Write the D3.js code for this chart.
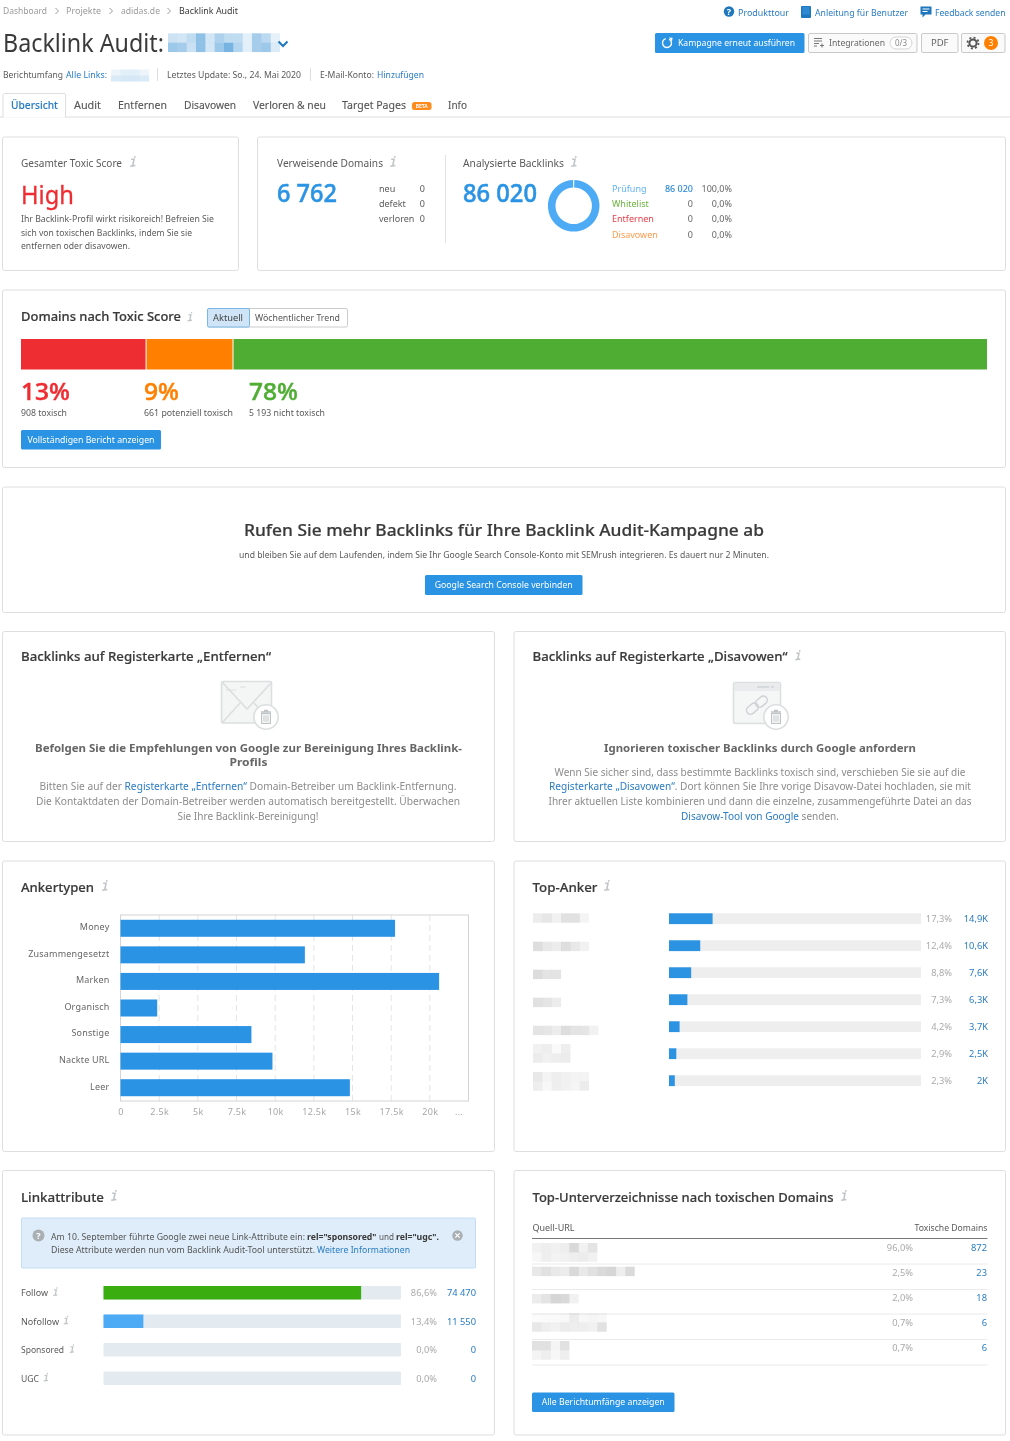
<!DOCTYPE html>
<html lang="de"><head><meta charset="utf-8"><title>Backlink Audit</title>
<script src="https://cdn.jsdelivr.net/npm/d3@7/dist/d3.min.js"></script>
<style>html,body{margin:0;padding:0;background:#fff;overflow:hidden}svg{display:block;filter:blur(.25px)}text{font-family:"Noto Sans",sans-serif}</style>
</head><body><script>
// ---- chart data ----
const toxicPercents = [13, 9, 78];
const toxicLabels = ["908 toxisch", "661 potenziell toxisch", "5 193 nicht toxisch"];
const anchorTypes = ["Money", "Zusammengesetzt", "Marken", "Organisch", "Sonstige", "Nackte URL", "Leer"];
const anchorValues = [17750, 11920, 20600, 2375, 8465, 9825, 14830];
const anchorTicks = [0, 2500, 5000, 7500, 10000, 12500, 15000, 17500, 20000, 22500];
const anchorTickLabels = ["0", "2.5k", "5k", "7.5k", "10k", "12.5k", "15k", "17.5k", "20k", "..."];
const topAnchorPct = [17.3, 12.4, 8.8, 7.3, 4.2, 2.9, 2.3];
const topAnchorCount = ["14,9K", "10,6K", "7,6K", "6,3K", "3,7K", "2,5K", "2K"];
const topAnchorMask = [
  [[.14,.18,.1,.22,.22,.08]], [[.24,.17,.14,.24,.17,.1]], [[.26,.2,.2]], [[.22,.19,.14]],
  [[.2,.18,.14,.24,.2,.19,.1]], [[.1,.12,.04,.12],[.14,.1,.12,.14]], [[.17,.08,.12,.1,.08,.08],[.12,.05,.12,.1,.07,.14]]];
const attrNames = ["Follow", "Nofollow", "Sponsored", "UGC"];
const attrPct = [86.6, 13.4, 0, 0];
const attrCount = ["74 470", "11 550", "0", "0"];
const subdirPct = ["96,0%", "2,5%", "2,0%", "0,7%", "0,7%"];
const subdirCount = ["872", "23", "18", "6", "6"];
const subdirMask = [
  [[.1,.12,.1,.12,.28,.1,.2],[.06,.12,.09,.1,.12,.14,.1]],
  [[.17,.22,.16,.14,.28,.16,.22,.27,.3,.12,.27]],
  [[.14,.2,.3,.28,.1]],
  [[.03,.04,.04,.05,.14,.06,.07,.06],[.17,.12,.1,.14,.12,.12,.1,.22]],
  [[.22,.22,.07,.22],[.08,.12,.06,.12]]];
const backlinkStates = ["Prüfung", "Whitelist", "Entfernen", "Disavowen"];
const backlinkCounts = [86020, 0, 0, 0];
const backlinkCountText = ["86 020", "0", "0", "0"];
const backlinkShare = ["100,0%", "0,0%", "0,0%", "0,0%"];
const domainStates = ["neu", "defekt", "verloren"];
const domainCounts = [0, 0, 0];
const tabs = ["Übersicht", "Audit", "Entfernen", "Disavowen", "Verloren & neu", "Target Pages", "Info"];
const crumbs = ["Dashboard", "Projekte", "adidas.de", "Backlink Audit"];

// ---- helpers ----
const BLUE = "#2a93e4", LINK = "#2a7cc4", DARK = "#3a3a3a", MID = "#5a5a5a", GREY = "#8c8c8c";
const svg = d3.select("body").append("svg").attr("width", 1010).attr("height", 1441).attr("viewBox", "0 0 1010 1441");
function T(x, y, s, o = {}) {
  const t = svg.append("text").attr("x", x).attr("y", y).text(s)
    .attr("font-size", o.size || 9.5).attr("fill", o.color || MID).attr("font-weight", o.weight || 400)
    .attr("text-anchor", o.anchor || "start");
  if (o.w) t.attr("textLength", o.w).attr("lengthAdjust", "spacingAndGlyphs");
  if (o.stroke) t.attr("stroke", o.color || MID).attr("stroke-width", o.stroke);
  return t;
}
function rich(x, y, parts, o = {}) {
  const t = T(x, y, "", o);
  parts.forEach(p => { const sp = t.append("tspan").text(p[0]); if (p[1]) sp.attr("fill", p[1]); if (p[2]) sp.attr("font-weight", p[2]); });
  if (o.w) t.attr("textLength", o.w).attr("lengthAdjust", "spacingAndGlyphs");
  return t;
}
function card(x0, y0, x1, y1) {
  svg.append("rect").attr("x", x0).attr("y", y0).attr("width", x1 - x0).attr("height", y1 - y0).attr("rx", 2)
    .attr("fill", "#fff").attr("stroke", "#dedede");
}
function btn(x0, y0, x1, y1, s, o = {}) {
  svg.append("rect").attr("x", x0).attr("y", y0).attr("width", x1 - x0).attr("height", y1 - y0).attr("rx", 1.5).attr("fill", o.fill || "#2a93e4").attr("stroke", o.stroke || "none");
  if (s) T(o.tx || (x0 + x1) / 2, (y0 + y1) / 2 + 3, s, { color: o.color || "#fff", anchor: o.tx ? "start" : "middle", w: o.w, size: o.size });
}
function info(x, y, k = 1) {
  const g = svg.append("g").attr("transform", `translate(${x},${y}) scale(${k})`);
  g.append("path").attr("d", "M-1.8,-7.2H1L-.3,-.6M-2.8,-.2L2.4,-1")
    .attr("fill", "none").attr("stroke", "#c0c4c6").attr("stroke-width", 1.6);
  g.append("circle").attr("cx", 1.8).attr("cy", -9.6).attr("r", .95).attr("fill", "#c0c4c6");
}
function mosaic(x, y, rows, color = "#777", cw = 9.33, ch = 9.33) {
  rows.forEach((r, j) => r.forEach((v, i) => svg.append("rect").attr("x", x + i * cw).attr("y", y + j * ch)
    .attr("width", cw + .1).attr("height", ch + .1).attr("fill", color).attr("opacity", v)));
}
function title(x, y, s, w, size = 12.5) { T(x, y, s, { size, color: DARK, weight: 500, w, stroke: .18 }); }
function chev(x, y, c = "#aaa") {
  svg.append("path").attr("d", `M${x - 1.5},${y - 3}L${x + 1.5},${y}L${x - 1.5},${y + 3}`).attr("fill", "none").attr("stroke", c);
}

// ---- page header ----
[[3, 44], [66, 35], [121, 39], [179, 59]].forEach((p, i) => T(p[0], 14, crumbs[i], { color: i === 3 ? DARK : "#9a9a9a", w: p[1], size: 9.5 }));
[57, 111, 169].forEach(x => chev(x, 11, "#999"));
T(3, 52, "Backlink Audit:", { size: 26, color: DARK, w: 161 });
mosaic(168, 33.3, [[.28,.25,.35,.62,.25,.45,.35,.35,.15,.5,.38,.14],[.55,.5,.3,.62,.25,.55,.75,.42,.15,.5,.55,.2]], "#4b9bd8");
svg.append("path").attr("d", "M278.5,41.5L283,46L287.5,41.5").attr("fill", "none").attr("stroke", "#1f77bd").attr("stroke-width", 2);
T(3, 78, "Berichtumfang", { w: 60 });
T(66, 78, "Alle Links:", { color: LINK, w: 41 });
mosaic(111, 69.5, [[.12,.2,.2,.12],[.25,.28,.28,.25]], "#6aaede", 9.5, 6);
[157, 310].forEach(x => svg.append("line").attr("x1", x + .5).attr("x2", x + .5).attr("y1", 68).attr("y2", 81).attr("stroke", "#ddd"));
T(167, 78, "Letztes Update: So., 24. Mai 2020", { w: 134 });
T(320, 78, "E-Mail-Konto:", { w: 54 });
T(377, 78, "Hinzufügen", { color: LINK, w: 47 });

// top links
[[738, "Produkttour", 51], [815, "Anleitung für Benutzer", 93], [935, "Feedback senden", 70.5]].forEach(d => T(d[0], 16, d[1], { color: LINK, w: d[2], size: 9 }));
svg.append("circle").attr("cx", 729).attr("cy", 11.5).attr("r", 5.2).attr("fill", "#1f77bd");
T(729, 14.8, "?", { color: "#fff", anchor: "middle", size: 9, weight: 700 });
svg.append("rect").attr("x", 801).attr("y", 6).attr("width", 10).attr("height", 12).attr("rx", 1).attr("fill", "#1f77bd");
svg.append("rect").attr("x", 802.5).attr("y", 7).attr("width", 7).attr("height", 7.5).attr("fill", "#2f8ad4");
svg.append("path").attr("d", "M920.5,6.5h11v8h-6l-3,3v-3h-2z").attr("fill", "#1f77bd");
svg.append("path").attr("d", "M922.5,9h7M922.5,11.5h5").attr("stroke", "#fff");

// action buttons
btn(655, 33, 804.5, 53, "Kampagne erneut ausführen", { tx: 678, w: 117 });
svg.append("path").attr("d", d3.arc()({ innerRadius: 3.8, outerRadius: 5.2, startAngle: .5, endAngle: 6 })).attr("transform", "translate(667,43)").attr("fill", "#fff");
svg.append("path").attr("d", "M669,37.5l3.6,.2l-.6,3.5z").attr("fill", "#fff");
const bOpt = { fill: "#fafafa", stroke: "#c9c9c9", color: "#666" };
btn(808.5, 33.5, 917, 52.5, "Integrationen", { ...bOpt, tx: 829, w: 56 });
svg.append("path").attr("d", "M814,38.5h8M814,41h8M814,43.5h5M814,46h3").attr("stroke", "#777").attr("stroke-width", 1);
svg.append("path").attr("d", "M820,45.5h4M822,43.5v4").attr("stroke", "#777");
svg.append("rect").attr("x", 890).attr("y", 37).attr("width", 22).attr("height", 12).attr("rx", 6).attr("fill", "#fff").attr("stroke", "#d5d5d5");
T(901, 46, "0/3", { color: "#888", anchor: "middle", size: 8 });
btn(921.5, 33.5, 958, 52.5, "PDF", { ...bOpt });
btn(961.5, 33.5, 1005, 52.5, "", { ...bOpt });
svg.append("circle").attr("cx", 973).attr("cy", 43).attr("r", 3.6).attr("fill", "none").attr("stroke", "#555").attr("stroke-width", 2);
svg.append("circle").attr("cx", 973).attr("cy", 43).attr("r", 5.5).attr("fill", "none").attr("stroke", "#555").attr("stroke-width", 1.8).attr("stroke-dasharray", "2 2.3");
svg.append("circle").attr("cx", 991).attr("cy", 43).attr("r", 7).attr("fill", "#ff8000");
T(991, 46, "3", { color: "#fff", anchor: "middle", size: 8.5 });

// tabs
svg.append("rect").attr("x", 0).attr("y", 116).attr("width", 1010).attr("height", 2).attr("fill", "#eeeeee");
svg.append("path").attr("d", "M3,117.5V95a1.5,1.5 0 0 1 1.5,-1.5H64a1.5,1.5 0 0 1 1.5,1.5V117.5").attr("fill", "#fff").attr("stroke", "#dedede");
[[11, 47], [74, 27], [118, 49], [184, 52], [253, 73], [342, 64], [448, 19]].forEach((p, i) =>
  T(p[0], 109, tabs[i], { size: 10, color: i === 0 ? LINK : "#555", w: p[1], weight: i === 0 ? 500 : 400, stroke: .1 }));
svg.append("rect").attr("x", 412).attr("y", 102).attr("width", 19.5).attr("height", 8).attr("rx", 2.5).attr("fill", "#ff8a1e");
T(421.7, 108.2, "BETA", { color: "#fff", size: 5, anchor: "middle", weight: 700 });

// ---- score card ----
card(2.5, 137, 238.5, 270.5);
T(21, 167, "Gesamter Toxic Score", { size: 10.5, w: 101 });
info(133, 166.5);
T(21, 204, "High", { size: 26, color: "#ee2d32", w: 53, stroke: .3 });
["Ihr Backlink-Profil wirkt risikoreich! Befreien Sie", "sich von toxischen Backlinks, indem Sie sie", "entfernen oder disavowen."].forEach((s, i) =>
  T(21, [222, 236, 249][i], s, { size: 9, w: [193, 171, 109][i] }));

card(257.5, 137, 1005.5, 270.5);
T(277, 167, "Verweisende Domains", { size: 10.5, w: 106 });
info(393, 166.5);
T(277, 202, "6 762", { size: 25, color: BLUE, weight: 500, stroke: .5, w: 60 });
domainStates.forEach((s, i) => {
  T(379, [192, 207, 222][i], s, { size: 9 });
  T(425, [192, 207, 222][i], domainCounts[i], { size: 9, anchor: "end" });
});
svg.append("line").attr("x1", 445.5).attr("x2", 445.5).attr("y1", 155).attr("y2", 243).attr("stroke", "#e2e2e2");
T(463, 167, "Analysierte Backlinks", { size: 10.5, w: 101 });
info(574, 166.5);
T(463, 202, "86 020", { size: 25, color: BLUE, weight: 500, stroke: .5, w: 74 });
const pie = d3.pie().sort(null).startAngle(.025).endAngle(2 * Math.PI - .025)(backlinkCounts);
svg.append("g").attr("transform", "translate(573.7,205.8)").selectAll("path").data(pie).join("path")
  .attr("d", d3.arc().innerRadius(18.2).outerRadius(25.8)).attr("fill", "#4dabf5");
const stateColors = ["#62b3f0", "#6cb33f", "#e8414b", "#ff9a4d"];
backlinkStates.forEach((s, i) => {
  const y = [192, 207, 222, 238][i];
  T(612, y, s, { size: 9, color: stateColors[i] });
  T(693, y, backlinkCountText[i], { size: 9, anchor: "end", color: i === 0 ? "#2a88d8" : "#666", weight: i === 0 ? 500 : 400 });
  T(732, y, backlinkShare[i], { size: 9, anchor: "end", color: "#666" });
});

// ---- domains by toxic score ----
card(2.5, 290, 1005.5, 467.5);
title(21, 321, "Domains nach Toxic Score", 160);
info(190, 321, .85);
svg.append("rect").attr("x", 207.5).attr("y", 308.5).attr("width", 140).attr("height", 18.5).attr("rx", 1.5).attr("fill", "#fff").attr("stroke", "#ccc");
svg.append("rect").attr("x", 207.5).attr("y", 308.5).attr("width", 42).attr("height", 18.5).attr("rx", 1.5).attr("fill", "#cfe5f7").attr("stroke", "#78b7e8");
T(213, 321, "Aktuell", { w: 30, color: "#444" });
T(255, 321, "Wöchentlicher Trend", { w: 85, color: "#555" });
const stackX = d3.scaleLinear().domain([0, 100]).range([21, 987]);
const toxicColors = ["#ee2d32", "#ff8000", "#4fad33"];
let acc = 0;
svg.append("g").selectAll("rect").data(toxicPercents).join("rect")
  .attr("x", d => { const x = stackX(acc); acc += d; return x; })
  .attr("y", 339).attr("height", 30.5).attr("fill", (d, i) => toxicColors[i])
  .attr("width", (d, i) => stackX(d) - stackX(0) - (i < 2 ? 1 : 0));
[21, 144, 249].forEach((x, i) => {
  T(x, 400, toxicPercents[i] + "%", { size: 24, color: toxicColors[i], weight: 500, stroke: .5, w: [49, 35, 49][i] });
  T(x, 416, toxicLabels[i], { size: 9.5, w: [46, 89, 76][i] });
});
btn(21, 430, 161, 449.5, "Vollständigen Bericht anzeigen", { w: 127 });

// ---- promo ----
card(2.5, 487, 1005.5, 612.5);
T(504, 536, "Rufen Sie mehr Backlinks für Ihre Backlink Audit-Kampagne ab", { size: 17, color: DARK, weight: 500, anchor: "middle", w: 520, stroke: .2 });
T(504, 558, "und bleiben Sie auf dem Laufenden, indem Sie Ihr Google Search Console-Konto mit SEMrush integrieren. Es dauert nur 2 Minuten.", { size: 9.5, anchor: "middle", w: 530 });
btn(425, 575, 582.5, 595, "Google Search Console verbinden", { w: 138 });

// ---- remove / disavow cards ----
card(2.5, 631.5, 494.5, 841.5);
title(21, 660.5, "Backlinks auf Registerkarte „Entfernen“", 250);
svg.append("rect").attr("x", 221.5).attr("y", 681.5).attr("width", 50).attr("height", 41.5).attr("rx", 1.5).attr("fill", "#f4f5f5").attr("stroke", "#dcdfe0").attr("stroke-width", 1.6);
svg.append("path").attr("d", "M222,682L247,709L272,682M222,723L240,703M272,723L254,703").attr("fill", "none").attr("stroke", "#dcdfe0").attr("stroke-width", 1.6);
svg.append("path").attr("d", "M226,690h10M240,687h6").attr("stroke", "#dcdfe0");
function trash(cx, cy) {
  svg.append("circle").attr("cx", cx).attr("cy", cy).attr("r", 12.2).attr("fill", "#fff").attr("stroke", "#dcdfe0").attr("stroke-width", 1.6);
  svg.append("path").attr("d", `M${cx - 5},${cy - 5}h10M${cx - 2},${cy - 6.5}h4`).attr("stroke", "#bfc4c6").attr("stroke-width", 1.3);
  svg.append("rect").attr("x", cx - 4.5).attr("y", cy - 3.5).attr("width", 9).attr("height", 10).attr("fill", "#f1f2f2").attr("stroke", "#bfc4c6");
  svg.append("path").attr("d", `M${cx - 2},${cy - 1.5}v6M${cx},${cy - 1.5}v6M${cx + 2},${cy - 1.5}v6`).attr("stroke", "#bfc4c6").attr("stroke-width", .7);
}
trash(266, 717);
T(248.5, 752, "Befolgen Sie die Empfehlungen von Google zur Bereinigung Ihres Backlink-", { size: 11, color: "#666", weight: 700, anchor: "middle", w: 427 });
T(248.5, 766, "Profils", { size: 11, color: "#666", weight: 700, anchor: "middle", w: 38 });
rich(248, 790, [["Bitten Sie auf der "], ["Registerkarte „Entfernen“", LINK], [" Domain-Betreiber um Backlink-Entfernung."]], { size: 10, color: GREY, anchor: "middle", w: 417 });
T(248, 805, "Die Kontaktdaten der Domain-Betreiber werden automatisch bereitgestellt. Überwachen", { size: 10, color: GREY, anchor: "middle", w: 424 });
T(248, 819.5, "Sie Ihre Backlink-Bereinigung!", { size: 10, color: GREY, anchor: "middle", w: 141 });

card(514, 631.5, 1005.5, 841.5);
title(532.5, 660.5, "Backlinks auf Registerkarte „Disavowen“", 255);
info(798, 660, .95);
svg.append("rect").attr("x", 733.5).attr("y", 682.5).attr("width", 47).attr("height", 41).attr("rx", 2).attr("fill", "#f5f6f6").attr("stroke", "#dcdfe0").attr("stroke-width", 1.6);
svg.append("rect").attr("x", 734).attr("y", 683).attr("width", 46).attr("height", 8).attr("fill", "#e9ebec");
svg.append("path").attr("d", "M757,687h12M771,687h3").attr("stroke", "#cfd3d5").attr("stroke-width", 1.5);
svg.append("rect").attr("x", 746).attr("y", 705).attr("width", 13).attr("height", 8).attr("rx", 4).attr("transform", "rotate(-40 752 709)").attr("fill", "none").attr("stroke", "#cfd3d5").attr("stroke-width", 1.5);
svg.append("rect").attr("x", 755).attr("y", 698).attr("width", 13).attr("height", 8).attr("rx", 4).attr("transform", "rotate(-40 761 702)").attr("fill", "none").attr("stroke", "#cfd3d5").attr("stroke-width", 1.5);
trash(776, 717);
T(760, 752, "Ignorieren toxischer Backlinks durch Google anfordern", { size: 11, color: "#666", weight: 700, anchor: "middle", w: 312 });
T(760, 776, "Wenn Sie sicher sind, dass bestimmte Backlinks toxisch sind, verschieben Sie sie auf die", { size: 10, color: GREY, anchor: "middle", w: 411 });
rich(760, 790, [["Registerkarte „Disavowen“", LINK], [". Dort können Sie Ihre vorige Disavow-Datei hochladen, sie mit"]], { size: 10, color: GREY, anchor: "middle", w: 422 });
T(760, 805, "Ihrer aktuellen Liste kombinieren und dann die einzelne, zusammengeführte Datei an das", { size: 10, color: GREY, anchor: "middle", w: 423 });
rich(760, 819.5, [["Disavow-Tool von Google", LINK], [" senden."]], { size: 10, color: GREY, anchor: "middle", w: 158 });

// ---- anchor types chart ----
card(2.5, 861, 494.5, 1151.5);
title(21, 892, "Ankertypen", 73, 13);
info(105, 890.5);
const ax = d3.scaleLinear().domain([0, 22500]).range([120.5, 468.5]);
const ay = d3.scaleBand().domain(anchorTypes).range([915, 1101]).paddingInner(.36).paddingOuter(.18);
svg.append("g").selectAll("line").data(anchorTicks.slice(1, -1)).join("line")
  .attr("x1", d => ax(d)).attr("x2", d => ax(d)).attr("y1", 915).attr("y2", 1101)
  .attr("stroke", "#e4e4e4").attr("stroke-dasharray", "6 4");
svg.append("rect").attr("x", 120.5).attr("y", 915).attr("width", 348).attr("height", 186).attr("fill", "none").attr("stroke", "#d4d4d4").attr("stroke-width", 1);
svg.append("g").selectAll("rect").data(anchorValues).join("rect")
  .attr("x", ax(0)).attr("y", (d, i) => ay(anchorTypes[i]))
  .attr("width", d => ax(d) - ax(0)).attr("height", ay.bandwidth()).attr("fill", "#2a93e4");
const xa = svg.append("g").attr("transform", "translate(0,1101)")
  .call(d3.axisBottom(ax).tickValues(anchorTicks).tickFormat((d, i) => anchorTickLabels[i]).tickSize(0).tickPadding(8));
xa.select(".domain").remove();
xa.selectAll("text").attr("font-size", 9).attr("fill", "#a8a8a8").attr("dx", (d, i) => i === 9 ? -10 : 0).style("letter-spacing", ".3px");
const ya = svg.append("g").attr("transform", "translate(120.5,0)").call(d3.axisLeft(ay).tickSize(0).tickPadding(11));
ya.select(".domain").remove();
ya.selectAll("text").attr("font-size", 9).attr("fill", "#666").attr("dy", ".2em").style("letter-spacing", ".2px");

// ---- top anchors ----
card(514, 861, 1005.5, 1151.5);
title(532.5, 892, "Top-Anker", 65, 13);
info(607, 890.5);
const tx = d3.scaleLinear().domain([0, 100]).range([669, 921]);
const topY = d3.scaleBand().domain(d3.range(topAnchorPct.length)).range([905.2, 1094.2]).paddingInner(.6).paddingOuter(.3);
svg.append("g").selectAll("rect").data(topAnchorPct).join("rect").attr("x", tx(0)).attr("y", (d, i) => topY(i)).attr("width", tx(100) - tx(0)).attr("height", topY.bandwidth()).attr("fill", "#eeeeee");
svg.append("g").selectAll("rect").data(topAnchorPct).join("rect").attr("x", tx(0)).attr("y", (d, i) => topY(i)).attr("width", d => tx(d) - tx(0)).attr("height", topY.bandwidth()).attr("fill", "#2c93e3");
topAnchorPct.forEach((p, i) => {
  const y = topY(i) + topY.bandwidth() / 2 + 3.2;
  T(952, y, String(p).replace(".", ",") + "%", { size: 9.3, color: "#aaa", anchor: "end" });
  T(988, y, topAnchorCount[i], { size: 9.3, color: LINK, anchor: "end" });
});
[913.3, 941.7, 969.7, 997.7, 1025.7, 1044, 1072].forEach((y, i) => mosaic(533, y, topAnchorMask[i], "#777"));

// ---- link attributes ----
card(2.5, 1170.5, 494.5, 1435);
title(21, 1202, "Linkattribute", 83, 13);
info(114, 1200.5);
svg.append("rect").attr("x", 21.5).attr("y", 1218).attr("width", 454).attr("height", 50).attr("rx", 1).attr("fill", "#deedf9").attr("stroke", "#c4dff4");
svg.append("circle").attr("cx", 38.5).attr("cy", 1235.5).attr("r", 6).attr("fill", "#a9afb3");
T(38.5, 1238.8, "?", { size: 9, color: "#fff", anchor: "middle", weight: 700 });
T(51, 1240, "Am 10. September führte Google zwei neue Link-Attribute ein:", { size: 9, w: 254, color: "#555" });
T(307, 1240, 'rel="sponsored"', { size: 9, w: 69.5, color: DARK, weight: 700 });
T(379, 1240, "und", { size: 9, w: 15, color: "#555" });
T(396, 1240, 'rel="ugc".', { size: 9, w: 43, color: DARK, weight: 700 });
T(51, 1253, "Diese Attribute werden nun vom Backlink Audit-Tool unterstützt.", { size: 9, w: 264, color: "#555" });
T(317, 1253, "Weitere Informationen", { size: 9, w: 93, color: LINK });
svg.append("circle").attr("cx", 457.5).attr("cy", 1235.5).attr("r", 5.2).attr("fill", "#a9afb3");
svg.append("path").attr("d", "M455.3,1233.3l4.4,4.4M459.7,1233.3l-4.4,4.4").attr("stroke", "#fff").attr("stroke-width", 1.2);
const lx = d3.scaleLinear().domain([0, 100]).range([103.5, 401]);
const ly = d3.scaleBand().domain(attrNames).range([1278.5, 1392.5]).paddingInner(.526).paddingOuter(.263);
const attrColors = ["#3aae10", "#4dabf5", "#4dabf5", "#4dabf5"];
svg.append("g").selectAll("rect").data(attrNames).join("rect").attr("x", lx(0)).attr("y", d => ly(d)).attr("width", lx(100) - lx(0)).attr("height", ly.bandwidth()).attr("rx", 1).attr("fill", "#e3eaf0");
svg.append("g").selectAll("rect").data(attrPct).join("rect").attr("x", lx(0)).attr("y", (d, i) => ly(attrNames[i])).attr("width", d => lx(d) - lx(0)).attr("height", ly.bandwidth()).attr("fill", (d, i) => attrColors[i]);
attrNames.forEach((n, i) => {
  const y = ly(n) + ly.bandwidth() / 2 + 3.4;
  T(21, y, n, { size: 9.5, w: [27, 38, 43, 18][i] });
  info([55.5, 66, 72, 46][i], y - .5, .8);
  T(437, y, attrPct[i].toFixed(1).replace(".", ",") + "%", { size: 9.3, color: "#aaa", anchor: "end" });
  T(476, y, attrCount[i], { size: 9.3, color: LINK, anchor: "end" });
});

// ---- top subfolders ----
card(514, 1170.5, 1005.5, 1435);
title(532.5, 1202, "Top-Unterverzeichnisse nach toxischen Domains", 301, 13);
info(844, 1200.5);
T(532.5, 1231, "Quell-URL", { size: 9.5, w: 42 });
T(987.5, 1231, "Toxische Domains", { size: 9.5, anchor: "end", w: 73 });
svg.append("line").attr("x1", 532).attr("x2", 987.5).attr("y1", 1238.5).attr("y2", 1238.5).attr("stroke", "#777");
[1264, 1289.5, 1314, 1339.5, 1365].forEach(y => svg.append("line").attr("x1", 532).attr("x2", 987.5).attr("y1", y).attr("y2", y).attr("stroke", "#eaeaea"));
[1243, 1266.7, 1294, 1313, 1341].forEach((y, i) => mosaic(532, y, subdirMask[i], "#777"));
subdirPct.forEach((p, i) => {
  const y = [1250.5, 1276, 1301, 1326, 1351][i];
  T(913, y, p, { size: 9.3, color: "#aaa", anchor: "end" });
  T(987, y, subdirCount[i], { size: 9.3, color: LINK, anchor: "end" });
});
btn(532, 1392.5, 674.5, 1412, "Alle Berichtumfänge anzeigen", { w: 123 });
</script></body></html>
